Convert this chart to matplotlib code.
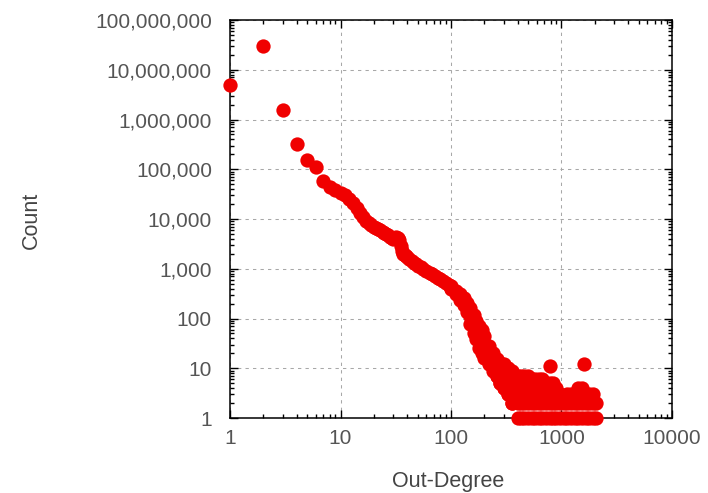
import numpy as np
import matplotlib
matplotlib.use('Agg')
import matplotlib.pyplot as plt
from matplotlib.ticker import FuncFormatter, LogLocator, NullFormatter

plt.rcParams['font.family'] = ['Liberation Sans', 'DejaVu Sans']

# out-degree distribution, values
curve_deg = [1, 2, 3, 4, 5, 6, 7, 8, 9, 10, 11, 12, 13, 14, 15, 16, 17, 18, 19, 20,
             21, 22, 23, 24, 25, 26, 27, 28, 29, 30, 31, 32, 33, 34, 35, 36, 37, 38, 39, 40,
             42, 44, 46, 48, 50, 53, 56, 60, 64, 68, 72, 76, 80, 85, 90, 95]
curve_cnt = [4.9e6, 3.0e7, 1.55e6, 3.2e5, 1.5e5, 1.1e5, 5.7e4, 4.5e4, 3.9e4, 3.4e4,
             3.0e4, 2.5e4, 2.05e4, 1.65e4, 1.35e4, 1.1e4, 9.3e3, 8.3e3, 7.6e3, 7.0e3,
             6.6e3, 6.3e3, 5.95e3, 5.6e3, 5.3e3, 5.0e3, 4.7e3, 4.4e3, 4.1e3, 3.9e3,
             4.1e3, 4.3e3, 4.2e3, 3.7e3, 2.9e3, 2.3e3, 1.95e3, 1.85e3, 1.78e3, 1.7e3,
             1.55e3, 1.42e3, 1.32e3, 1.24e3, 1.16e3, 1.06e3, 980, 900, 830, 770,
             710, 660, 610, 560, 510, 465]

# noisy middle section: upper, middle and lower spread of counts
band_deg = [100, 110, 120, 130, 140, 150, 160, 170, 180, 190, 200, 220, 240, 260, 280, 300, 330, 360]
band_hi = [440, 365, 311, 264, 205, 160, 120, 88, 72, 58, 45, 28, 20, 15, 13, 12, 10, 9]
band_mid = [410, 340, 273, 220, 166, 112, 80, 60, 45, 36, 28, 19, 14, 11, 9, 8, 8, 8]
band_lo = [383, 317, 240, 183, 138, 79, 52, 38, 25, 20, 16, 12, 9, 7, 5, 4, 3, 2]

# sparse tail: degrees seen with a count of 1, 2, 3 ...
tail_1 = [400, 430, 460, 500, 540, 580, 620, 670, 720, 780, 840, 900, 970, 1050,
          1130, 1220, 1320, 1420, 1530, 1650, 1780, 1920, 2050]
tail_2 = [360, 400, 430, 460, 500, 540, 580, 620, 670, 720, 780, 840, 900, 970, 1050,
          1130, 1220, 1320, 1420, 1530, 1650, 1780, 1920, 2050]
tail_3 = [330, 360, 400, 430, 460, 500, 540, 580, 620, 670, 720, 780, 840, 900, 970,
          1130, 1220, 1320, 1420, 1530, 1650, 1780, 1920]
tail_4 = [300, 330, 360, 400, 430, 460, 500, 540, 580, 620, 670, 720, 780, 840, 900,
          1420, 1530]
tail_5 = [280, 300, 330, 360, 400, 430, 460, 500, 540, 580, 620, 670, 720, 780, 840]
tail_6 = [280, 300, 330, 360, 400, 430, 460, 500, 540, 580, 620]
tail_7 = [260, 280, 300, 330, 360, 400, 430, 460, 500]
outlier_deg = [670, 787, 1600]
outlier_cnt = [6, 11, 12]

xs = curve_deg + band_deg * 3 + outlier_deg
ys = curve_cnt + band_hi + band_mid + band_lo + outlier_cnt
for c, row in enumerate([tail_1, tail_2, tail_3, tail_4, tail_5, tail_6, tail_7], start=1):
    xs += row
    ys += [c] * len(row)

fig = plt.figure(figsize=(7.08, 4.93), dpi=100)
ax = fig.add_axes([230/708, 75/493, 442/708, 398/493])

ax.plot(xs, ys, 'o', color='#f00000', ms=10.3, mec='none', clip_on=False, zorder=3)

ax.set_xscale('log')
ax.set_yscale('log')
ax.set_xlim(1, 10000)
ax.set_ylim(1, 1e8)

ax.xaxis.set_major_locator(LogLocator(base=10, numticks=10))
ax.yaxis.set_major_locator(LogLocator(base=10, numticks=12))
ax.xaxis.set_minor_locator(LogLocator(base=10, subs=np.arange(2, 10), numticks=20))
ax.yaxis.set_minor_locator(LogLocator(base=10, subs=np.arange(2, 10), numticks=20))
ax.xaxis.set_minor_formatter(NullFormatter())
ax.yaxis.set_minor_formatter(NullFormatter())
ax.xaxis.set_major_formatter(FuncFormatter(lambda v, p: '%d' % round(v)))
ax.yaxis.set_major_formatter(FuncFormatter(lambda v, p: '{:,}'.format(int(round(v)))))

ax.tick_params(which='both', direction='in', top=True, right=True, width=1.0,
               color='black', labelcolor='#555555', labelsize=15)
ax.tick_params(which='major', length=6)
ax.tick_params(which='minor', length=3.2)
ax.tick_params(axis='x', which='major', pad=8)
ax.tick_params(axis='y', which='major', pad=13)

ax.grid(True, which='major', color='#a8a8a8', linestyle=(0, (3.2, 4)), linewidth=0.75)
for s in ax.spines.values():
    s.set_linewidth(1.1)

ax.set_xlabel('Out-Degree', fontsize=15.5, color='#444444')
ax.set_ylabel('Count', fontsize=15.5, color='#444444')
ax.xaxis.set_label_coords(0.493, -0.133)
ax.yaxis.set_label_coords(-0.4265, 0.4975)

fig.savefig('out.png', dpi=100)
